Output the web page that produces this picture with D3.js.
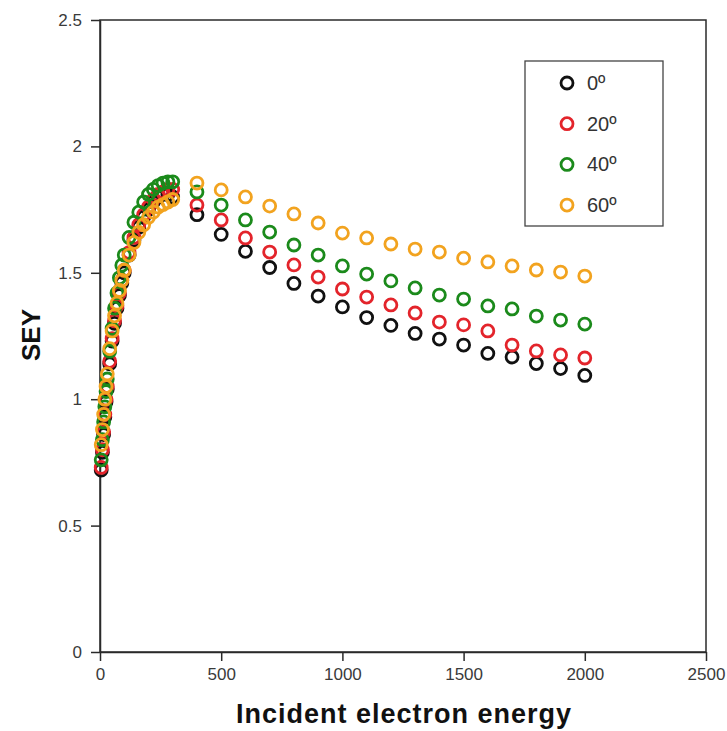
<!DOCTYPE html>
<html>
<head>
<meta charset="utf-8">
<script src="https://cdn.jsdelivr.net/npm/d3@7/dist/d3.min.js"></script>
<style>
  html, body { margin: 0; padding: 0; background: #fff; }
  svg { display: block; }
</style>
</head>
<body>
<svg id="chart" width="727" height="731"></svg>
<script>
// ---- Data ----
const energies = [5, 10, 15, 20, 25, 30, 40, 50, 60, 70, 80, 90, 100, 120, 140, 160, 180, 200, 220, 240, 260, 280, 300,
  400, 500, 600, 700, 800, 900, 1000, 1100, 1200, 1300, 1400, 1500, 1600, 1700, 1800, 1900, 2000];

const sey0 = [0.72, 0.79, 0.86, 0.93, 0.99, 1.04, 1.14, 1.23, 1.30, 1.36, 1.41, 1.46, 1.50, 1.57, 1.63, 1.68, 1.72, 1.75, 1.78, 1.80, 1.81, 1.81, 1.80,
  1.73, 1.652, 1.585, 1.521, 1.458, 1.408, 1.365, 1.323, 1.292, 1.260, 1.238, 1.214, 1.181, 1.167, 1.141, 1.121, 1.094];
const sey20 = [0.73, 0.80, 0.87, 0.94, 1.00, 1.05, 1.15, 1.24, 1.31, 1.37, 1.42, 1.47, 1.51, 1.58, 1.64, 1.69, 1.73, 1.76, 1.79, 1.81, 1.82, 1.83, 1.83,
  1.768, 1.709, 1.638, 1.582, 1.531, 1.483, 1.436, 1.404, 1.373, 1.341, 1.305, 1.294, 1.270, 1.214, 1.191, 1.175, 1.163];
const sey40 = [0.76, 0.84, 0.91, 0.97, 1.03, 1.08, 1.19, 1.28, 1.36, 1.42, 1.48, 1.53, 1.57, 1.64, 1.70, 1.74, 1.78, 1.81, 1.83, 1.845, 1.855, 1.86, 1.86,
  1.820, 1.768, 1.709, 1.661, 1.610, 1.570, 1.527, 1.495, 1.468, 1.440, 1.412, 1.396, 1.369, 1.357, 1.329, 1.313, 1.297];
const sey60 = [0.82, 0.88, 0.94, 1.00, 1.05, 1.10, 1.20, 1.27, 1.33, 1.38, 1.43, 1.47, 1.51, 1.57, 1.62, 1.66, 1.69, 1.72, 1.74, 1.76, 1.77, 1.78, 1.79,
  1.855, 1.828, 1.800, 1.764, 1.733, 1.697, 1.657, 1.638, 1.614, 1.594, 1.582, 1.558, 1.543, 1.527, 1.511, 1.503, 1.487];

const seriesLabels = ["0º", "20º", "40º", "60º"];
const seriesColors = ["#111111", "#e3242b", "#1b8a1b", "#f2a31f"];

const xTicks = [0, 500, 1000, 1500, 2000, 2500];
const yTicks = [0, 0.5, 1, 1.5, 2, 2.5];
const xTickLabels = ["0", "500", "1000", "1500", "2000", "2500"];
const yTickLabels = ["0", "0.5", "1", "1.5", "2", "2.5"];

const xTitle = "Incident electron energy";
const yTitle = "SEY";

// ---- Drawing ----
(function () {
const svg = d3.select("#chart");
const mLeft = 100, mRight = 706, mTop = 20, mBottom = 652;

const x = d3.scaleLinear().domain([0, 2500]).range([mLeft, mRight]);
const y = d3.scaleLinear().domain([0, 2.5]).range([mBottom, mTop]);

const axisColor = "#2a2a2a";
const font = "Liberation Sans, Arial, Helvetica, sans-serif";

// frame
svg.append("rect")
  .attr("x", mLeft).attr("y", mTop)
  .attr("width", mRight - mLeft).attr("height", mBottom - mTop)
  .attr("fill", "none").attr("stroke", axisColor).attr("stroke-width", 1.5);

const xAxis = d3.axisBottom(x).tickValues(xTicks)
  .tickFormat((d, i) => xTickLabels[i]).tickSize(9).tickPadding(7).tickSizeOuter(0);
const yAxis = d3.axisLeft(y).tickValues(yTicks)
  .tickFormat((d, i) => yTickLabels[i]).tickSize(9).tickPadding(9).tickSizeOuter(0);

const gx = svg.append("g").attr("transform", `translate(0,${mBottom})`).call(xAxis);
const gy = svg.append("g").attr("transform", `translate(${mLeft},0)`).call(yAxis);

[gx, gy].forEach(g => {
  g.select(".domain").attr("stroke", axisColor).attr("stroke-width", 1.5);
  g.selectAll(".tick line").attr("stroke", axisColor).attr("stroke-width", 1.5);
  g.selectAll(".tick text").attr("fill", "#3a3a3a").style("font-family", font).style("font-size", "17px");
});

// axis titles
svg.append("text")
  .attr("x", 404).attr("y", 723)
  .attr("text-anchor", "middle")
  .style("font-family", font).style("font-size", "27px").style("font-weight", "bold")
  .style("letter-spacing", "1px")
  .attr("fill", "#111")
  .text(xTitle);

svg.append("text")
  .attr("transform", `translate(40,335) rotate(-90)`)
  .attr("text-anchor", "middle")
  .style("font-family", font).style("font-size", "26px").style("font-weight", "bold")
  .attr("fill", "#111")
  .text(yTitle);

// series
const allSeries = [sey0, sey20, sey40, sey60];
allSeries.forEach((vals, si) => {
  const pts = energies.map((e, i) => ({ e, v: vals[i] }));
  svg.append("g").selectAll("circle").data(pts).join("circle")
    .attr("cx", d => x(d.e))
    .attr("cy", d => y(d.v))
    .attr("r", 6)
    .attr("fill", "none")
    .attr("stroke", seriesColors[si])
    .attr("stroke-width", 2.8);
});

// legend
const lg = svg.append("g");
lg.append("rect")
  .attr("x", 525).attr("y", 61).attr("width", 138).attr("height", 165)
  .attr("fill", "#fff").attr("stroke", "#444").attr("stroke-width", 1.3);
seriesLabels.forEach((lab, i) => {
  const cy = 83 + i * 40.7;
  lg.append("circle").attr("cx", 567).attr("cy", cy).attr("r", 6)
    .attr("fill", "none").attr("stroke", seriesColors[i]).attr("stroke-width", 2.8);
  lg.append("text").attr("x", 587).attr("y", cy + 7)
    .style("font-family", font).style("font-size", "20px").attr("fill", "#333")
    .text(lab);
});
})();
</script>
</body>
</html>
